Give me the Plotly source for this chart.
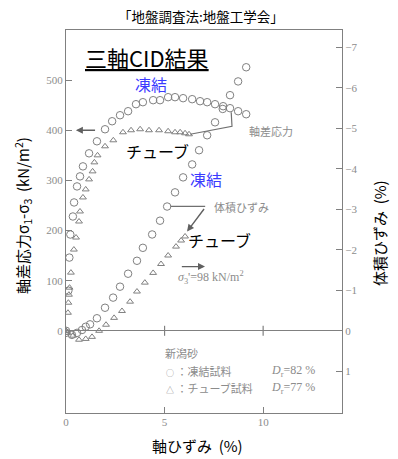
import plotly.graph_objects as go

# ---- data ----
strain_frozen_q = [0, 0.12, 0.17, 0.22, 0.35, 0.41, 0.56, 0.71, 0.86, 1.17, 1.57, 1.98, 2.34, 2.74,
                   3.15, 3.55, 3.9, 4.42, 4.77, 5.18, 5.53, 5.94, 6.40, 6.80, 7.16, 7.56, 7.97,
                   8.32, 8.73, 9.14]
q_frozen = [0, 80, 146, 192, 228, 256, 288, 308, 328, 354, 378, 402, 418, 430,
            438, 452, 456, 460, 460, 466, 466, 464, 462, 458, 456, 452, 448,
            444, 438, 432]

strain_tube_q = [0, 0.1, 0.12, 0.15, 0.18, 0.25, 0.4, 0.51, 0.66, 0.71, 0.86, 1.0, 1.17, 1.35,
                 1.44, 1.6, 1.98, 2.4, 2.89, 3.3, 3.76, 4.21, 4.72, 5.18, 5.53, 5.79, 6.04, 6.24]
q_tube = [0, 36, 56, 72, 86, 116, 162, 186, 218, 238, 266, 282, 302, 318,
          336, 350, 368, 380, 396, 400, 402, 400, 400, 398, 396, 396, 394, 392]

strain_frozen_v = [0, 0.3, 0.56, 0.81, 1.0, 1.22, 1.57, 1.98, 2.39, 2.74, 3.15, 3.6, 3.9,
                   4.37, 4.77, 5.13, 5.53, 5.94, 6.4, 6.75, 7.16, 7.56, 7.95, 8.32, 8.73, 9.14]
vol_frozen = [0.05, 0.1, 0.05, -0.02, -0.1, -0.16, -0.31, -0.57, -0.82, -1.09, -1.41, -1.73, -2.05,
              -2.38, -2.72, -3.07, -3.42, -3.79, -4.11, -4.46, -4.83, -5.15, -5.48, -5.82, -6.16, -6.51]

strain_tube_v = [0, 0.1, 0.36, 0.66, 1.0, 1.32, 1.68, 2.03, 2.44, 2.84, 3.25, 3.6, 4.0,
                 4.42, 4.82, 5.18, 5.58, 5.84, 6.04]
vol_tube = [0, 0.05, 0.12, 0.22, 0.2, 0.15, 0.0, -0.15, -0.32, -0.49, -0.72, -0.97, -1.19,
            -1.43, -1.65, -1.86, -2.08, -2.23, -2.33]

x_ticks = [0, 5, 10]
y_ticks = [0, 100, 200, 300, 400, 500]
y2_ticks = [-7, -6, -5, -4, -3, -2, -1, 0, 1]
y2_ticktext = ["\u22127", "\u22126", "\u22125", "\u22124", "\u22123", "\u22122", "\u22121", "0", "1"]

GRAY = "#808080"
SCAN_TXT = "#8c8c8c"
BLUE = "#3b3bff"
CJK = "Noto Sans CJK JP"
SERIF = "Liberation Serif"

fig = go.Figure()

mk_c = dict(symbol="circle-open", size=7.5, color=GRAY, line=dict(width=1, color=GRAY))
mk_t = dict(symbol="triangle-up-open", size=6, color=GRAY, line=dict(width=1, color=GRAY))

fig.add_trace(go.Scatter(x=strain_frozen_q, y=q_frozen, mode="markers", marker=mk_c,
                         showlegend=False, yaxis="y"))
fig.add_trace(go.Scatter(x=strain_tube_q, y=q_tube, mode="markers", marker=mk_t,
                         showlegend=False, yaxis="y"))
fig.add_trace(go.Scatter(x=strain_frozen_v, y=vol_frozen, mode="markers", marker=mk_c,
                         showlegend=False, yaxis="y2"))
fig.add_trace(go.Scatter(x=strain_tube_v, y=vol_tube, mode="markers", marker=mk_t,
                         showlegend=False, yaxis="y2"))

tickfont = dict(family=SERIF, size=11, color=SCAN_TXT)

fig.update_layout(
    width=398, height=459,
    margin=dict(l=66, r=56, t=30, b=46),
    paper_bgcolor="white", plot_bgcolor="white",
    xaxis=dict(range=[0, 14], tickvals=x_ticks, ticks="inside", ticklen=6, tickcolor=GRAY,
               showline=True, linecolor=GRAY, linewidth=1.2, mirror=True, showgrid=False,
               zeroline=False, tickfont=tickfont, ticklabelstandoff=-1),
    yaxis=dict(range=[-164, 600], tickvals=y_ticks, ticks="inside", ticklen=6, tickcolor=GRAY,
               showline=True, linecolor=GRAY, linewidth=1.2, showgrid=False,
               zeroline=True, zerolinecolor=GRAY, zerolinewidth=1.2, tickfont=tickfont),
    yaxis2=dict(range=[2.03, -7.43], overlaying="y", side="right", tickvals=y2_ticks,
                ticktext=y2_ticktext, ticks="inside", ticklen=6, tickcolor=GRAY,
                showline=True, linecolor=GRAY, linewidth=1.2, showgrid=False, zeroline=False,
                tickfont=tickfont),
    font=dict(family=CJK),
)

# small ticks on the zero line
for xv in x_ticks[1:]:
    fig.add_shape(type="line", xref="x", yref="y", x0=xv, x1=xv, y0=-5, y1=5,
                  ysizemode="pixel", yanchor=0, line=dict(color=GRAY, width=1.2))

ann = []
ctr = dict(xanchor="center", yanchor="middle", showarrow=False)
# overlay titles
ann.append(dict(ctr, text="「地盤調査法:地盤工学会」", xref="paper", yref="paper", x=0.489, y=1.037,
                font=dict(size=13.5, color="black", family=CJK)))
ann.append(dict(ctr, text="<u>三軸CID結果</u>", xref="x", yref="y", x=4.11, y=546,
                font=dict(size=22, color="black", family=CJK)))
ann.append(dict(ctr, text="凍結", xref="x", yref="y", x=4.31, y=492,
                font=dict(size=16, color=BLUE, family=CJK)))
ann.append(dict(ctr, text="凍結", xref="x", yref="y", x=7.11, y=302,
                font=dict(size=16, color=BLUE, family=CJK)))
ann.append(dict(ctr, text="チューブ", xref="x", yref="y", x=4.62, y=358,
                font=dict(size=16, color="black", family=CJK)))
ann.append(dict(ctr, text="チューブ", xref="x", yref="y", x=7.77, y=182,
                font=dict(size=16, color="black", family=CJK)))
ann.append(dict(ctr, text="軸差応力σ<sub>1</sub>-σ<sub>3</sub>  (kN/m<sup>2</sup>)", xref="paper",
                yref="paper", x=-0.156, y=0.517, textangle=-90,
                font=dict(size=15, color="black", family=CJK)))
ann.append(dict(ctr, text="体積ひずみ  (%)", xref="paper", yref="paper", x=1.138, y=0.47,
                textangle=-90, font=dict(size=15, color="black", family=CJK)))
ann.append(dict(ctr, text="軸ひずみ  (%)", xref="paper", yref="paper", x=0.475, y=-0.085,
                font=dict(size=15, color="black", family=CJK)))

# scanned annotations
lft = dict(xanchor="left", yanchor="middle", showarrow=False)
ann.append(dict(lft, text="軸差応力", xref="x", yref="y", x=9.19, y=398,
                font=dict(size=11, color=SCAN_TXT, family=CJK)))
ann.append(dict(lft, text="体積ひずみ", xref="x", yref="y", x=7.4, y=246,
                font=dict(size=11, color=SCAN_TXT, family=CJK)))
ann.append(dict(lft, text="<i>σ</i><sub>3</sub>'=98 kN/m<sup>2</sup>", xref="x", yref="y", x=5.6, y=106,
                font=dict(size=12, color=SCAN_TXT, family=SERIF)))
ann.append(dict(lft, text="新潟砂", xref="x", yref="y", x=4.9, y=-44,
                font=dict(size=11, color=SCAN_TXT, family=CJK)))
ann.append(dict(lft, text="<span style='font-size:8px'>○</span> ：凍結試料", xref="x", yref="y",
                x=4.95, y=-80, font=dict(size=11, color=SCAN_TXT, family=CJK)))
ann.append(dict(lft, text="<span style='font-size:8px'>△</span> ：チューブ試料", xref="x", yref="y",
                x=4.95, y=-114, font=dict(size=11, color=SCAN_TXT, family=CJK)))
ann.append(dict(lft, text="<i>D</i><sub>r</sub>=82 %", xref="x", yref="y", x=10.3, y=-80,
                font=dict(size=12, color=SCAN_TXT, family=SERIF)))
ann.append(dict(lft, text="<i>D</i><sub>r</sub>=77 %", xref="x", yref="y", x=10.3, y=-114,
                font=dict(size=12, color=SCAN_TXT, family=SERIF)))

# arrows
arr = dict(text="", showarrow=True, arrowhead=2, arrowsize=1, arrowwidth=1.4,
           arrowcolor="#606060", xref="x", yref="y", axref="x", ayref="y")
ann.append(dict(arr, x=0.5, y=400, ax=1.55, ay=400))
ann.append(dict(arr, x=7.05, y=128, ax=5.8, ay=128))
ann.append(dict(arr, x=6.14, y=198, ax=7.06, ay=246))
fig.update_layout(annotations=ann)

# annotation lines
fig.add_shape(type="line", xref="x", yref="y", x0=5.3, x1=7.06, y0=248, y1=248,
              line=dict(color="#707070", width=1.2))
fig.add_shape(type="path", xref="x", yref="y", path="M 8.38 436 L 8.42 408 L 6.3 392",
              line=dict(color="#707070", width=1.2))

fig.write_html("out.html", config={"displayModeBar": False},
               post_script="document.body.style.margin='0px';document.body.style.overflow='hidden';")
